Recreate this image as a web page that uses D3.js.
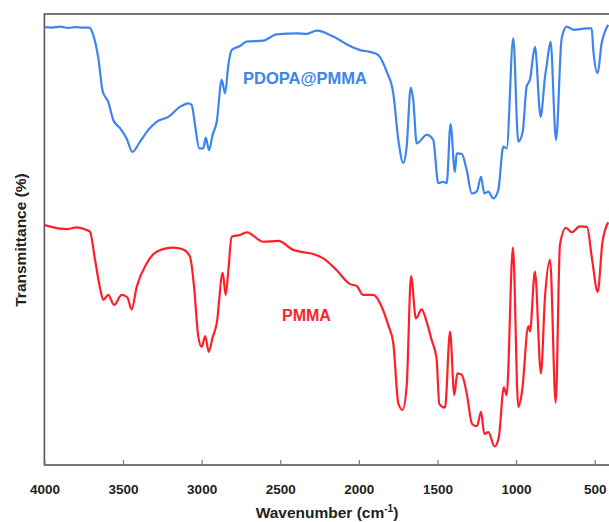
<!DOCTYPE html>
<html>
<head>
<meta charset="utf-8">
<script src="https://cdn.jsdelivr.net/npm/d3@7"></script>
<style>
  body { margin: 0; background: #fff; }
  svg { display: block; font-family: "Liberation Sans", Arial, sans-serif; }
</style>
</head>
<body>
<div id="chart"></div>
<script>
// wavenumber (cm-1) and transmittance (%)
const blueWn = [4000, 3950, 3900, 3850, 3800, 3750, 3714, 3689, 3657, 3629, 3594, 3562, 3519, 3477, 3440,
  3392, 3339, 3286, 3212, 3138, 3085, 3063, 3042, 3015, 2989, 2974, 2953, 2930, 2904, 2872, 2851, 2830,
  2809, 2756, 2713, 2608, 2523, 2395, 2332, 2268, 2163, 2056, 1993, 1929, 1876, 1823, 1781, 1749, 1717,
  1696, 1670, 1654, 1632, 1569, 1527, 1495, 1463, 1441, 1417, 1389, 1378, 1346, 1314, 1282, 1250, 1223,
  1202, 1177, 1145, 1113, 1081, 1060, 1018, 986, 958, 933, 912, 880, 844, 816, 805, 781, 746, 710, 678,
  636, 551, 519, 509, 481, 456, 435, 414]
const blueT = [97.1, 97.0, 97.2, 96.9, 97.1, 97.0, 97.0, 95.3, 90.2, 82.8, 80.5, 76.5, 74.7, 72.4, 69.4,
  71.7, 74.3, 76.1, 77.2, 79.4, 80.2, 79.8, 75.4, 70.2, 70.2, 72.6, 69.8, 73.2, 76.1, 85.4, 82.4, 88.7,
  92.0, 92.9, 93.9, 94.1, 95.5, 95.7, 95.6, 96.3, 95.0, 92.9, 92.0, 91.6, 90.9, 87.2, 82.4, 72.1, 67.0,
  70.6, 83.7, 80.9, 71.3, 73.2, 72.1, 62.5, 62.8, 62.5, 75.6, 65.0, 69.1, 69.0, 65.4, 60.2, 60.6, 63.9,
  60.2, 60.6, 59.1, 61.0, 70.6, 70.2, 94.6, 71.7, 73.9, 83.9, 85.4, 92.7, 77.2, 86.1, 88.7, 93.9, 72.1,
  94.6, 97.2, 96.5, 96.8, 96.8, 92.0, 86.9, 93.5, 96.1, 97.6]

const redWn = [4000, 3943, 3900, 3858, 3795, 3731, 3710, 3678, 3646, 3625, 3594, 3557, 3508, 3473, 3445,
  3413, 3349, 3286, 3180, 3117, 3074, 3048, 3021, 3000, 2977, 2955, 2930, 2904, 2866, 2847, 2830, 2809,
  2756, 2713, 2608, 2512, 2417, 2374, 2290, 2226, 2141, 2056, 2014, 1972, 1908, 1855, 1813, 1781, 1749,
  1722, 1696, 1668, 1637, 1601, 1569, 1537, 1506, 1488, 1452, 1420, 1393, 1374, 1346, 1314, 1280, 1249,
  1223, 1202, 1176, 1137, 1110, 1078, 1060, 1020, 986, 962, 922, 912, 880, 842, 816, 784, 748, 721, 683,
  646, 594, 549, 517, 481, 451, 414]
const redT = [53.2, 52.7, 52.4, 52.3, 52.7, 52.1, 51.7, 45.5, 39.2, 36.6, 37.7, 35.5, 37.7, 37.2, 34.5,
  39.5, 44.7, 47.3, 48.2, 47.8, 46.2, 39.5, 28.4, 26.2, 28.6, 25.1, 28.3, 31.4, 42.6, 37.7, 43.2, 50.6,
  51.0, 51.6, 49.5, 49.7, 47.7, 47.3, 46.8, 45.8, 43.2, 40.1, 39.7, 37.7, 37.7, 35.1, 31.0, 27.0, 13.7,
  12.2, 17.4, 41.9, 32.5, 34.5, 31.8, 27.7, 23.7, 13.5, 12.7, 29.6, 15.5, 20.3, 20.0, 15.9, 9.1, 8.6,
  11.8, 6.9, 7.3, 4.1, 6.1, 17.2, 15.5, 48.2, 12.9, 16.3, 30.8, 29.6, 42.9, 20.3, 37.3, 45.5, 13.8, 48.8,
  52.6, 51.6, 52.9, 52.8, 45.7, 38.4, 49.3, 53.8]

const xTicks = [4000, 3500, 3000, 2500, 2000, 1500, 1000, 500]

const W = 609, H = 522
const margin = { left: 44.4, top: 14, bottom: 465 }

const svg = d3.select('#chart').append('svg').attr('width', W).attr('height', H)

const x = d3.scaleLinear().domain([4000, 500]).range([44.4, 594.7])
const y = d3.scaleLinear().domain([0, 100]).range([margin.bottom, margin.top])

svg.append('defs').append('clipPath').attr('id', 'plot-clip')
  .append('rect').attr('x', margin.left).attr('y', margin.top)
  .attr('width', W - margin.left).attr('height', margin.bottom - margin.top)

// frame (right side runs off the picture)
svg.append('rect')
  .attr('x', margin.left).attr('y', margin.top)
  .attr('width', 620 - margin.left).attr('height', margin.bottom - margin.top)
  .attr('fill', 'none').attr('stroke', '#555').attr('stroke-width', 1.6)

const xAxis = svg.append('g')
  .attr('transform', `translate(0,${margin.bottom})`)
  .call(d3.axisBottom(x).tickValues(xTicks).tickSize(-5).tickPadding(19).tickFormat(d3.format('d')))
xAxis.select('.domain').remove()
xAxis.selectAll('.tick line').attr('stroke', '#6b7f99').attr('stroke-width', 1.2)
xAxis.selectAll('.tick text')
  .attr('font-size', 13.5).attr('font-weight', 'bold').attr('fill', '#222')
  .attr('font-family', '"Liberation Sans", Arial, sans-serif')

const line = d3.line().x(d => x(d[0])).y(d => y(d[1])).curve(d3.curveMonotoneX)
const plot = svg.append('g').attr('clip-path', 'url(#plot-clip)')

plot.append('path')
  .datum(d3.zip(blueWn, blueT))
  .attr('fill', 'none').attr('stroke', '#3d84ee').attr('stroke-width', 2.2)
  .attr('stroke-linejoin', 'round').attr('d', line)

plot.append('path')
  .datum(d3.zip(redWn, redT))
  .attr('fill', 'none').attr('stroke', '#ff1f2a').attr('stroke-width', 2.2)
  .attr('stroke-linejoin', 'round').attr('d', line)

// curve labels
svg.append('text')
  .attr('x', 243).attr('y', 84)
  .attr('font-size', 16.5).attr('font-weight', 'bold').attr('fill', '#3d84ee')
  .text('PDOPA@PMMA')
svg.append('text')
  .attr('x', 282).attr('y', 321)
  .attr('font-size', 16).attr('font-weight', 'bold').attr('fill', '#ff1f2a')
  .text('PMMA')

// axis titles
const xt = svg.append('text')
  .attr('x', 327).attr('y', 518).attr('text-anchor', 'middle')
  .attr('font-size', 15.5).attr('font-weight', 'bold').attr('fill', '#222')
xt.append('tspan').text('Wavenumber (cm')
xt.append('tspan').attr('dy', -6).attr('font-size', 10).text('-1')
xt.append('tspan').attr('dy', 6).text(')')

svg.append('text')
  .attr('transform', 'translate(26,240) rotate(-90)')
  .attr('text-anchor', 'middle')
  .attr('font-size', 15.5).attr('font-weight', 'bold').attr('fill', '#222')
  .text('Transmittance (%)')
</script>
</body>
</html>
